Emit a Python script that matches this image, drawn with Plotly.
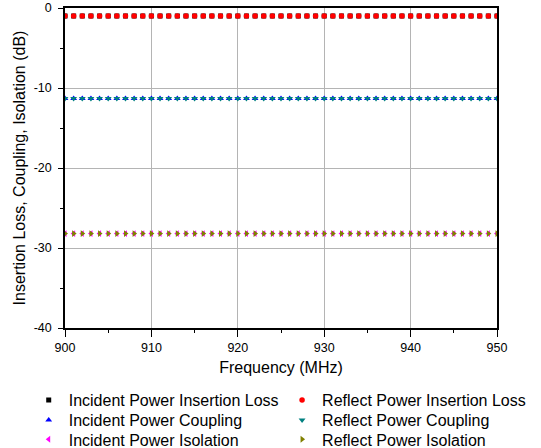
import plotly.graph_objects as go

freq = [900, 901, 902, 903, 904, 905, 906, 907, 908, 909, 910, 911, 912, 913, 914, 915, 916, 917,
        918, 919, 920, 921, 922, 923, 924, 925, 926, 927, 928, 929, 930, 931, 932, 933, 934, 935,
        936, 937, 938, 939, 940, 941, 942, 943, 944, 945, 946, 947, 948, 949, 950]

inc_il = [-1.0, -1.0, -1.0, -1.0, -1.0, -1.0, -1.0, -1.0, -1.0, -1.0, -1.0, -1.0, -1.0, -1.0, -1.0, -1.0, -1.0,
          -1.0, -1.0, -1.0, -1.0, -1.0, -1.0, -1.0, -1.0, -1.0, -1.0, -1.0, -1.0, -1.0, -1.0, -1.0, -1.0, -1.0,
          -1.0, -1.0, -1.0, -1.0, -1.0, -1.0, -1.0, -1.0, -1.0, -1.0, -1.0, -1.0, -1.0, -1.0, -1.0, -1.0, -1.0]
ref_il = [-1.0, -1.0, -1.0, -1.0, -1.0, -1.0, -1.0, -1.0, -1.0, -1.0, -1.0, -1.0, -1.0, -1.0, -1.0, -1.0, -1.0,
          -1.0, -1.0, -1.0, -1.0, -1.0, -1.0, -1.0, -1.0, -1.0, -1.0, -1.0, -1.0, -1.0, -1.0, -1.0, -1.0, -1.0,
          -1.0, -1.0, -1.0, -1.0, -1.0, -1.0, -1.0, -1.0, -1.0, -1.0, -1.0, -1.0, -1.0, -1.0, -1.0, -1.0, -1.0]
inc_cp = [-11.3, -11.3, -11.3, -11.3, -11.3, -11.3, -11.3, -11.3, -11.3, -11.3, -11.3, -11.3, -11.3, -11.3,
          -11.3, -11.3, -11.3, -11.3, -11.3, -11.3, -11.3, -11.3, -11.3, -11.3, -11.3, -11.3, -11.3, -11.3,
          -11.3, -11.3, -11.3, -11.3, -11.3, -11.3, -11.3, -11.3, -11.3, -11.3, -11.3, -11.3, -11.3, -11.3,
          -11.3, -11.3, -11.3, -11.3, -11.3, -11.3, -11.3, -11.3, -11.3]
ref_cp = [-11.3, -11.3, -11.3, -11.3, -11.3, -11.3, -11.3, -11.3, -11.3, -11.3, -11.3, -11.3, -11.3, -11.3,
          -11.3, -11.3, -11.3, -11.3, -11.3, -11.3, -11.3, -11.3, -11.3, -11.3, -11.3, -11.3, -11.3, -11.3,
          -11.3, -11.3, -11.3, -11.3, -11.3, -11.3, -11.3, -11.3, -11.3, -11.3, -11.3, -11.3, -11.3, -11.3,
          -11.3, -11.3, -11.3, -11.3, -11.3, -11.3, -11.3, -11.3, -11.3]
inc_iso = [-28.2, -28.2, -28.2, -28.2, -28.2, -28.2, -28.2, -28.2, -28.2, -28.2, -28.2, -28.2, -28.2, -28.2,
           -28.2, -28.2, -28.2, -28.2, -28.2, -28.2, -28.2, -28.2, -28.2, -28.2, -28.2, -28.2, -28.2, -28.2,
           -28.2, -28.2, -28.2, -28.2, -28.2, -28.2, -28.2, -28.2, -28.2, -28.2, -28.2, -28.2, -28.2, -28.2,
           -28.2, -28.2, -28.2, -28.2, -28.2, -28.2, -28.2, -28.2, -28.2]
ref_iso = [-28.2, -28.2, -28.2, -28.2, -28.2, -28.2, -28.2, -28.2, -28.2, -28.2, -28.2, -28.2, -28.2, -28.2,
           -28.2, -28.2, -28.2, -28.2, -28.2, -28.2, -28.2, -28.2, -28.2, -28.2, -28.2, -28.2, -28.2, -28.2,
           -28.2, -28.2, -28.2, -28.2, -28.2, -28.2, -28.2, -28.2, -28.2, -28.2, -28.2, -28.2, -28.2, -28.2,
           -28.2, -28.2, -28.2, -28.2, -28.2, -28.2, -28.2, -28.2, -28.2]

x_tickvals = [900, 910, 920, 930, 940, 950]
x_ticktext = ["900", "910", "920", "930", "940", "950"]
y_tickvals = [0, -10, -20, -30, -40]
y_ticktext = ["0", "-10", "-20", "-30", "-40"]

names = ["Incident Power Insertion Loss", "Reflect Power Insertion Loss",
         "Incident Power Coupling", "Reflect Power Coupling",
         "Incident Power Isolation", "Reflect Power Isolation"]
series = [inc_il, ref_il, inc_cp, ref_cp, inc_iso, ref_iso]
symbols = ["square", "circle", "triangle-up", "triangle-down", "triangle-left", "triangle-right"]
colors = ["#000000", "#FF0000", "#0000FF", "#008080", "#FF00FF", "#808000"]
sizes = [5, 5.5, 6, 6, 6, 6]

FONT = "Liberation Sans, Arial"
legend_ids = ["legend", "legend2", "legend3", "legend4", "legend5", "legend6"]

fig = go.Figure()
for n, s, sym, c, sz, lg in zip(names, series, symbols, colors, sizes, legend_ids):
    fig.add_trace(go.Scatter(x=freq, y=s, mode="markers", name=n, legend=lg,
                             marker=dict(symbol=sym, color=c, size=sz, line=dict(width=0))))

axis_common = dict(
    showline=True, linecolor="#000000", linewidth=1.5, mirror=True,
    ticks="outside", tickwidth=1, tickcolor="#000000",
    showgrid=True, gridcolor="#B4B4B4", gridwidth=1, zeroline=False,
    tickfont=dict(family=FONT, size=12.5, color="#000000"),
)

# legend placement: two columns x three rows
col_x = [-0.084, 0.5025]
row_y = [-0.225, -0.2875, -0.348]
legend_layout = {}
for i, lg in enumerate(legend_ids):
    legend_layout[lg] = dict(
        x=col_x[i % 2], y=row_y[i // 2], xanchor="left", yanchor="middle",
        orientation="v", itemwidth=30, bgcolor="rgba(0,0,0,0)",
        font=dict(family=FONT, size=16, color="#000000"),
    )

fig.update_layout(
    width=541, height=448,
    margin=dict(l=65, r=44, t=8, b=120, autoexpand=False),
    paper_bgcolor="white", plot_bgcolor="white",
    font=dict(family=FONT, color="#000000"),
    xaxis=dict(range=[900, 950], tickvals=x_tickvals, ticktext=x_ticktext, ticklen=7,
               title=dict(text="Frequency (MHz)", font=dict(family=FONT, size=16), standoff=8),
               minor=dict(dtick=5, ticks="outside", ticklen=3, tickcolor="#000000", showgrid=False),
               **axis_common),
    yaxis=dict(range=[-40, 0], tickvals=y_tickvals, ticktext=y_ticktext, ticklen=5,
               ticklabelstandoff=4,
               title=dict(text="Insertion Loss, Coupling, Isolation (dB)",
                          font=dict(family=FONT, size=16), standoff=4),
               minor=dict(dtick=5, ticks="outside", ticklen=3, tickcolor="#000000", showgrid=False),
               **axis_common),
    showlegend=True,
    **legend_layout,
)

fig.write_html("out.html")
